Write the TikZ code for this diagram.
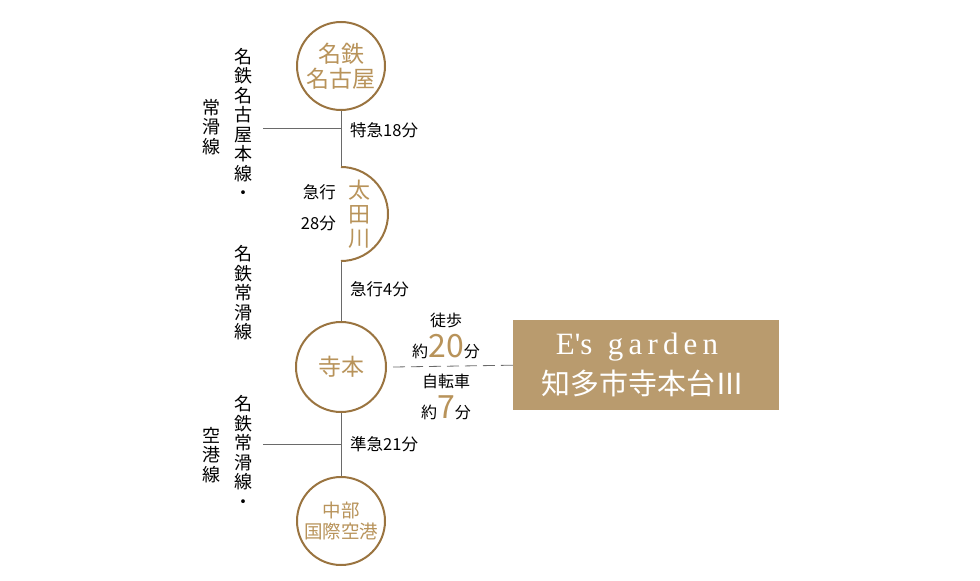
\documentclass[tikz,border=0pt]{standalone}
\usepackage{fontspec}
\setmainfont{Noto Sans CJK JP}
\newfontfamily\serifen{Liberation Serif}
\definecolor{ring}{HTML}{9A7440}
\definecolor{gold}{HTML}{B8935A}
\definecolor{boxfill}{HTML}{B99B6E}
\definecolor{rail}{HTML}{6A6A6A}
\tikzset{
  station/.style={circle, draw=ring, line width=2pt, fill=white, minimum size=88pt, inner sep=0pt, text=gold, align=center, font=\fontsize{23}{25}\selectfont},
  vtext/.style={align=center, font=\fontsize{18}{19.5}\selectfont, inner sep=0pt},
  timelbl/.style={anchor=west, font=\fontsize{16.5}{18}\selectfont, inner sep=0pt},
  route/.style={rail, line width=1pt}
}
\begin{document}
\begin{tikzpicture}[x=1pt,y=-1pt]
  \useasboundingbox (0,0) rectangle (980,581);
  % main line
  \coordinate (top) at (341,100);
  \coordinate (bot) at (341,480);
  \draw[route] (top) -- (bot);
  % branch ticks
  \coordinate (t1) at (341,128); \coordinate (t1l) at (263,128);
  \coordinate (t2) at (341,293); \coordinate (t2l) at (262,293);
  \coordinate (t3) at (341,444); \coordinate (t3l) at (263,444);
  \draw[route] (t1l) -- (t1);
  \draw[route, double distance=1.2pt, line width=0.5pt] (t2l) -- (t2);
  \draw[route] (t3l) -- (t3);

  % stations
  \node[station] (nagoya) at (341,66) {名鉄\\名古屋};
  \fill[white] (341,167) arc (-90:90:47);
  \draw[ring, line width=2pt] (341,167) arc (-90:90:47);
  \node[text=gold, align=center, font=\fontsize{22}{24}\selectfont] (ota) at (359,214) {太\\田\\川};
  \node[station, minimum size=90pt] (teramoto) at (341,367) {寺本};
  \node[station, font=\fontsize{18.5}{21}\selectfont] (chubu) at (341,521) {中部\\国際空港};

  % line names
  \node[vtext] (l1) at (243,124) {名\\鉄\\名\\古\\屋\\本\\線\\・};
  \node[vtext] (l1b) at (211,127) {常\\滑\\線};
  \node[vtext] (l2) at (243,293) {名\\鉄\\常\\滑\\線};
  \node[vtext] (l3) at (243,452) {名\\鉄\\常\\滑\\線\\・};
  \node[vtext] (l3b) at (211,455) {空\\港\\線};

  % travel times
  \node[timelbl] (m1) at (350,130) {特急18分};
  \node[timelbl, anchor=east] (m2) at (336,192) {急行};
  \node[timelbl, anchor=east] (m2b) at (336,223) {28分};
  \node[timelbl] (m3) at (350,289) {急行4分};
  \node[timelbl] (m4) at (350,444) {準急21分};

  % access to site
  \node[draw=none, fill=boxfill, minimum width=266pt, minimum height=90pt, anchor=north west] (site) at (513,320) {};
  \node[text=white, font=\serifen\fontsize{31}{34}\selectfont, inner sep=0pt] (en) at (637,347) {E's\ \ g\,a\,r\,d\,e\,n};
  \node[text=white, font=\fontsize{29}{32}\selectfont, inner sep=0pt] (ja) at (643,383) {知多市寺本台Ⅲ};
  \draw[rail, line width=0.8pt, dash pattern=on 12pt off 6pt] (teramoto.east) ++(6,0) coordinate (d0) -- (site.west);
  \node[font=\fontsize{16}{18}\selectfont] (walk) at (446,320) {徒歩};
  \node[font=\fontsize{16}{18}\selectfont] (walkt) at (446,347) {約{\color{gold}\fontsize{32}{32}\selectfont 20}分};
  \node[font=\fontsize{16}{18}\selectfont] (bike) at (446,381) {自転車};
  \node[font=\fontsize{16}{18}\selectfont] (biket) at (446,408) {約{\color{gold}\fontsize{32}{32}\selectfont 7}分};
\end{tikzpicture}
\end{document}
